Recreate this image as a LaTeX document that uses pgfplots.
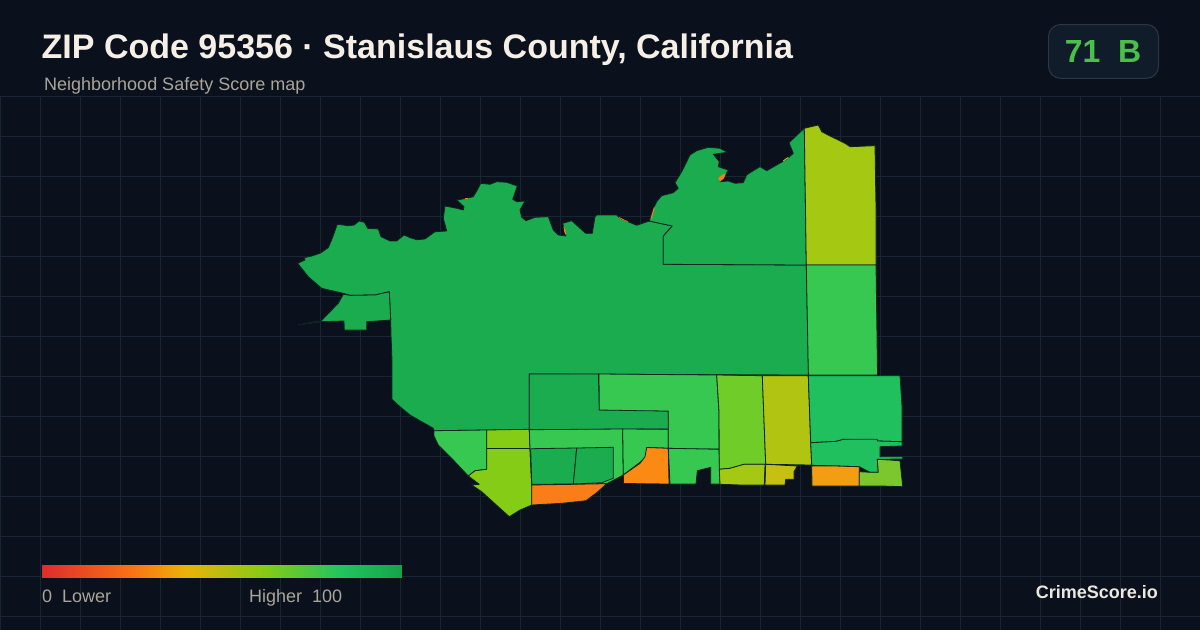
\documentclass[border=0pt]{standalone}
\usepackage{fontspec}
\setmainfont{Liberation Sans}
\usepackage{pgfplots}
\pgfplotsset{compat=1.18}
\definecolor{bg}{RGB}{10,17,29}
\definecolor{gridc}{RGB}{25,38,50}
\definecolor{edge}{RGB}{12,36,32}
\definecolor{dkgreen}{RGB}{27,172,80}
\definecolor{ltgreen}{RGB}{54,200,80}
\definecolor{midgreen}{RGB}{32,192,94}
\definecolor{limeA}{RGB}{132,204,22}
\definecolor{limeB}{RGB}{112,204,40}
\definecolor{limeC}{RGB}{124,200,44}
\definecolor{olive}{RGB}{165,201,19}
\definecolor{oliveB}{RGB}{178,196,18}
\definecolor{oliveC}{RGB}{200,192,16}
\definecolor{orng}{RGB}{249,125,24}
\definecolor{orngB}{RGB}{250,138,20}
\definecolor{amber}{RGB}{243,158,18}
\definecolor{cream}{RGB}{245,239,230}
\definecolor{muted}{RGB}{170,165,155}
\definecolor{badge}{RGB}{17,28,42}
\definecolor{badgeline}{RGB}{42,55,68}
\definecolor{badgetext}{RGB}{74,192,74}
\definecolor{brand}{RGB}{236,232,224}
\pgfplotsset{zone/.style={fill=#1, draw=edge, line width=0.8pt, line join=round}}
\newcommand{\px}[1]{\fontsize{#1}{#1}\selectfont}
\begin{document}
\begin{tikzpicture}
\begin{axis}[
  scale only axis, width=1200pt, height=630pt,
  xmin=0, xmax=1200, ymin=0, ymax=630,
  y dir=reverse, hide axis,
  colormap={score}{rgb255(0cm)=(222,44,44); rgb255(25cm)=(249,115,22); rgb255(40cm)=(234,179,8);
    rgb255(62cm)=(132,204,22); rgb255(83cm)=(34,197,94); rgb255(100cm)=(22,163,74)},
  point meta min=0, point meta max=100,
]
% background and grid
\addplot[fill=bg, draw=none] coordinates {(0,0) (1200,0) (1200,630) (0,630)} -- cycle;
\pgfplotsinvokeforeach{0.7,40.7,80.7,120.7,160.7,200.7,240.7,280.7,320.7,360.7,400.7,440.7,480.7,520.7,560.7,600.7,640.7,680.7,720.7,760.7,800.7,840.7,880.7,920.7,960.7,1000.7,1040.7,1080.7,1120.7,1160.7}{
  \addplot[gridc, line width=1pt] coordinates {(#1,96) (#1,630)};
}
\pgfplotsinvokeforeach{96.5,136.5,176.5,216.5,256.5,296.5,336.5,376.5,416.5,456.5,496.5,536.5,576.5,616.5}{
  \addplot[gridc, line width=1pt] coordinates {(0,#1) (1200,#1)};
}
% main zone
\addplot[zone=dkgreen] coordinates {
 (297.7,263.3) (305,260) (304.3,257.7) (311.7,256) (320,253.3) (328.3,247.7) (332.3,238.3) (337.3,224.3)
 (348.3,225.7) (354.3,225) (359,221) (364.3,222.3) (367.7,228.3) (378.3,229) (381,236.7) (390,241)
 (396.7,241) (404,235) (410,237.7) (416.7,239.7) (425,239) (435,231.7) (446.7,231) (443.3,218.3)
 (445,206) (456.7,208.3) (463.3,210) (464,206.7) (456.7,200) (466.7,198.3) (473.3,196.7) (477.3,190)
 (480.7,183.3) (490,184.3) (496.7,181.7) (506.7,182.3) (517.3,186) (512.7,199.3) (516.7,201.7) (525,201)
 (520,210) (521.7,217.3) (526,220.7) (535,217.3) (548.3,216.7) (553.3,230) (558.3,235) (566,236)
 (562.7,223.3) (571.7,220.7) (578.3,226.7) (585.7,233.3) (592.3,233.3) (595,216.7) (596.7,215) (616.7,215)
 (620,218.3) (636.7,225.3) (649.3,221) (672.3,226)
 (663.3,236) (663.3,264.3) (806.3,265) (808.5,375) (529.3,374) (529.3,429.5) (434,430.7) (433.3,428.3)
 (410,415) (400,406.7) (392,399.3) (392,360) (391,335) (390.7,320) (389.3,291.7) (375,295) (350,295.3)
 (343.3,293.3) (321.7,288.3) (308.3,276.7)
} -- cycle;
% west annex
\addplot[zone=dkgreen] coordinates {
 (343.3,294.3) (350,295.3) (375,295) (389.3,291.7) (390,306.7) (390.7,320) (366.7,321.7) (366.7,330) (344.3,330)
 (344,321) (321,321.7) (298.3,325) (311.7,322.3) (321,321) (331.7,310) (338.3,303.3)
} -- cycle;
% north zone
\addplot[zone=dkgreen] coordinates {
 (649.3,221) (652.7,210) (656.7,201.7) (661.7,195.7) (673.3,192.7) (678.3,188.3) (675,182.7) (681.7,171.7)
 (686.7,161.7) (690,155) (696.7,150.7) (708.3,147.3) (720,148.3) (727.3,152.3) (720,153.3) (713.3,154.3)
 (719.3,161.7) (718.3,166.7) (728.3,170) (726,174) (720,181.7) (728.3,181) (735,183.3) (743.3,182.7)
 (746.7,175) (751.7,171.7) (760,166.7) (766.7,170.7) (776.7,165) (786.7,159.3) (793.3,153.3)
 (789,142.7) (804.3,128.3) (806.3,265) (663.3,264.3) (663.3,236) (672.3,226)
} -- cycle;
% slivers along the river
\addplot[fill=orng, draw=none] coordinates {(718.3,178.3) (721.7,175) (726,173.3) (724,178.3) (720,181.7)} -- cycle;
\addplot[fill=orng, draw=none] coordinates {(563.5,226) (565.6,230) (566,235.5) (564.3,232)} -- cycle;
\addplot[fill=orng, draw=none] coordinates {(650.7,218.3) (654,207.3) (654.8,207.8) (651.7,218.8)} -- cycle;
\addplot[fill=orng, draw=none] coordinates {(619,217) (628,221.5) (627.5,222) (619,218)} -- cycle;
\addplot[fill=olive, draw=none] coordinates {(783,160.5) (788,157) (788.5,158) (783.5,161.5)} -- cycle;
\addplot[fill=orng, draw=none] coordinates {(465,198.3) (468,198.3) (468,199.3) (465,199.3)} -- cycle;
% NE column
\addplot[zone=olive] coordinates {(804.3,128.3) (818.3,125) (821.7,131.7) (830,136) (845,143.3) (850,146.7) (875,145.7) (876,208.3) (876,265) (806.3,265)} -- cycle;
\addplot[zone=ltgreen] coordinates {(806.3,265) (876,265) (877.5,375) (808.4,375)} -- cycle;
% south-west zones
\addplot[zone=ltgreen] coordinates {(434,430.7) (486.7,430) (486.7,469.3) (475,470.7) (468.3,476) (451.7,458.3) (438.3,445) (434,436)} -- cycle;
\addplot[zone=limeA] coordinates {(486.7,430) (529.3,429.3) (530,448.5) (486.7,448.5)} -- cycle;
\addplot[zone=limeA] coordinates {(486.7,448.5) (530,448.5) (531.7,485) (531.7,505) (520,510) (509.3,516.7) (481.7,491.7) (471.7,485) (479.3,484.3) (468.3,476) (475,470.7) (486.7,469.3)} -- cycle;
\addplot[zone=dkgreen] coordinates {(529.3,374) (598.5,374) (599.3,410) (620,409.5) (668.3,411) (668.5,429) (529.3,429.7)} -- cycle;
\addplot[zone=ltgreen] coordinates {(529.3,429.7) (622.7,429) (623.3,475) (612,481) (606.7,483.7) (573.3,484.3) (531.7,484.5) (530,448.5)} -- cycle;
\addplot[zone=dkgreen] coordinates {(530.7,448.7) (576.7,448) (573.3,484) (531.7,484.3)} -- cycle;
\addplot[zone=dkgreen] coordinates {(576.7,448) (613.3,447.3) (613.3,478.3) (601.7,482.7) (573.3,484)} -- cycle;
\addplot[zone=orng] coordinates {(531.7,485) (573.3,484.3) (606.7,483.7) (596.7,492.7) (586,500.7) (561.7,503.3) (531.7,505)} -- cycle;
\addplot[zone=ltgreen] coordinates {(622.7,429) (668.3,429.3) (668.3,448.3) (646.7,447.5) (645.7,458) (623.3,475)} -- cycle;
\addplot[zone=orngB] coordinates {(646.7,447.5) (668.3,448.3) (669,484) (623.5,483.5) (623.3,475) (640,463.3) (645,456.7)} -- cycle;
% central zones
\addplot[zone=ltgreen] coordinates {(599,374) (716.7,375) (719,411.7) (719,449) (693.3,449) (668.3,448.3) (668.3,411) (640,410.7) (599.3,410)} -- cycle;
\addplot[zone=ltgreen] coordinates {(668.3,448.3) (719,449.3) (720,484) (710.7,484) (710.7,467.3) (697.3,470.7) (696,484) (670,484)} -- cycle;
\addplot[zone=limeB] coordinates {(716.7,375) (762.3,375.7) (765.7,464.3) (744,464.3) (730,468.3) (719.3,469.3) (719,411.7)} -- cycle;
\addplot[zone=oliveB] coordinates {(762.3,375.7) (808.3,375.7) (810.7,443.3) (811.7,465) (765.7,464.3)} -- cycle;
\addplot[zone=olive] coordinates {(719.3,469.3) (730,468.3) (744,464.3) (765,464.3) (764.3,485) (741.7,485) (720,484.3)} -- cycle;
\addplot[zone=oliveC] coordinates {(765.7,464.3) (797.3,466) (794,471.7) (794,479.3) (785.7,479.3) (785,485) (765,485)} -- cycle;
% east zones
\addplot[zone=midgreen] coordinates {(808.3,375.7) (900,375.7) (902,406.7) (902,441.7) (877.3,441) (843.3,439.3) (836.7,441.3) (810.7,442.7)} -- cycle;
\addplot[zone=midgreen] coordinates {(810.7,442.7) (836.7,441.3) (843.3,439.3) (877.3,439.3) (877.3,441) (902,441.7) (902,446) (880,446.7) (880,456.7) (902.7,456.7) (902.7,459) (877.3,459.3) (878.3,472.3) (870,472.3) (859.3,466.7) (811.7,465.3)} -- cycle;
\addplot[zone=amber] coordinates {(811.7,466) (835,466) (859.3,466.7) (859.3,486) (812,486)} -- cycle;
\addplot[zone=limeC] coordinates {(859.3,471.7) (870,472.3) (878.3,472.3) (877.3,459.3) (900,460.7) (902.7,486.7) (881.7,486) (859.3,486)} -- cycle;
% colour scale
\addplot[surf, shader=interp, mesh/rows=2, mesh/cols=2, point meta=explicit] table[meta=c] {
x y c
42 565 0
402 565 100
42 577.7 0
402 577.7 100
};
% texts
\node[anchor=base west, inner sep=0pt, text=cream, font=\px{34}\bfseries] at (axis cs:41.5,58.7) {ZIP Code 95356 · Stanislaus County, California};
\node[anchor=base west, inner sep=0pt, text=muted, font=\px{18}] at (axis cs:44,90.7) {Neighborhood Safety Score map};
\draw[fill=badge, draw=badgeline, line width=1pt, rounded corners=12pt] (axis cs:1048.5,24.5) rectangle (axis cs:1158.5,78.3);
\node[anchor=base, inner sep=0pt, text=badgetext, font=\px{32}\bfseries] at (axis cs:1103,62.5) {71\hspace{17.8pt}B};
\node[anchor=base west, inner sep=0pt, text=muted, font=\px{18}] at (axis cs:42,602.7) {0\hspace{10pt}Lower};
\node[anchor=base west, inner sep=0pt, text=muted, font=\px{18}] at (axis cs:249,602.7) {Higher\hspace{10pt}100};
\node[anchor=base east, inner sep=0pt, text=brand, font=\px{18}\bfseries] at (axis cs:1158,598.3) {CrimeScore.io};
\end{axis}
\end{tikzpicture}
\end{document}
